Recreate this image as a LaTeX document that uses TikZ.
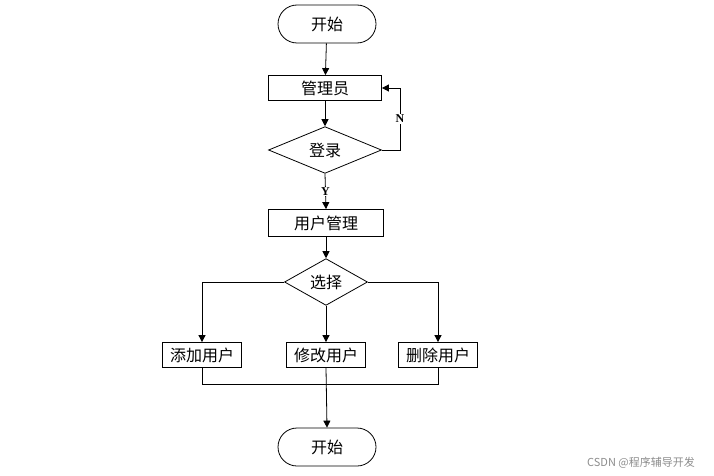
\documentclass[tikz,border=0pt]{standalone}
\usepackage{fontspec}
\setmainfont{Liberation Serif}
\newfontfamily\cjk{Noto Sans CJK SC}
\usetikzlibrary{arrows.meta, shapes.geometric}

\begin{document}
\begin{tikzpicture}[x=1pt, y=-1pt]
	\tikzstyle{comp} = [
		draw=black, line width=0.8pt, inner sep=0pt, font=\cjk\fontsize{16}{16}\selectfont
	]
	\tikzstyle{process} = [
		comp, rectangle, minimum width=113pt, minimum height=25pt
	]
	\tikzstyle{process_small} = [
		comp, rectangle, minimum width=79pt, minimum height=25pt
	]
	\tikzstyle{terminal} = [
		comp, rectangle, rounded corners=19pt, minimum width=98pt, minimum height=38pt
	]
	\tikzstyle{decision} = [
		comp, diamond
	]
	\tikzstyle{lbl} = [
		fill=white, inner sep=1pt, font=\bfseries\fontsize{12}{12}\selectfont
	]
	\tikzstyle{conn} = [
		line width=0.8pt, -{Triangle[length=7pt, width=7pt]}
	]
	\tikzstyle{line} = [
		line width=0.8pt
	]

	\useasboundingbox (0,0) rectangle (714,476);

	% Anfang
	\node (Start) [terminal] at (327,24) {开始};
	\node (Admin) [process] at (325,88) {管理员};
	\node (Login) [decision, minimum width=113pt, minimum height=44pt] at (325,150) {登录};
	\node (Manage) [process, minimum width=115pt, minimum height=27pt] at (326,223) {用户管理};
	\node (Choose) [decision, minimum width=83pt, minimum height=33pt] at (326,282) {选择};

	% Auswahl
	\node (Add)  [process_small] at (202,355) {添加用户};
	\node (Edit) [process_small] at (326,355) {修改用户};
	\node (Del)  [process_small] at (438,355) {删除用户};

	% Ende
	\node (End) [terminal] at (327,447) {开始};

	% Hilfspunkte
	\coordinate (h1) at (400,150); % unten
	\coordinate (h2) at (400,88);  % oben
	\coordinate (Merge) at (326,384);

	% oben
	\draw[conn] (Start) -- (Admin);
	\draw[conn] (Admin) -- (Login);
	\draw[conn] (Login.east) -- (h1) -- node[lbl] {N} (h2) -- (Admin.east);
	\draw[conn] (Login.south) -- node[lbl] {Y} (Manage.north);
	\draw[conn] (Manage) -- (Choose);

	% Verzweigung
	\draw[conn] (Choose.west) -| (Add.north);
	\draw[conn] (Choose.south) -- (Edit.north);
	\draw[conn] (Choose.east) -| (Del.north);

	% Zusammenfuehrung
	\draw[line] (Add.south) |- (Merge);
	\draw[line] (Del.south) |- (Merge);
	\draw[conn] (Edit.south) -- (End.north);

	% Wasserzeichen
	\node (Mark) [text=black!45, font=\cjk\fontsize{11}{11}\selectfont] at (641,463) {CSDN @程序辅导开发};

\end{tikzpicture}
\end{document}
